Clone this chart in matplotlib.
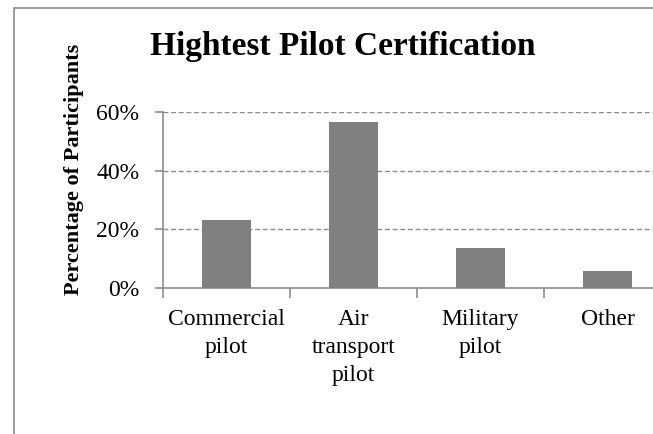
import matplotlib
matplotlib.use("Agg")
import matplotlib.pyplot as plt
from matplotlib.ticker import FuncFormatter, FixedLocator
from matplotlib.patches import Rectangle

categories = ["Commercial\npilot", "Air\ntransport\npilot", "Military\npilot", "Other"]
values = [0.233, 0.566, 0.137, 0.057]
yticks = [0.0, 0.2, 0.4, 0.6]

plt.rcParams['font.family'] = ['Liberation Serif', 'DejaVu Serif']

W, H = 653, 434
fig = plt.figure(figsize=(W / 100, H / 100), dpi=100)

# outer chart border (cropped at right/bottom)
fig.patches.append(Rectangle((14 / W, -0.1), 1.2, (H - 8) / H + 0.1,
                             transform=fig.transFigure, fill=False,
                             edgecolor='#8c8c8c', linewidth=1.2))

left, right = 163, 671
bottom, top = 288, 112
ax = fig.add_axes([left / W, (H - bottom) / H, (right - left) / W, (bottom - top) / H])

x = list(range(len(categories)))
ax.bar(x, values, width=0.39, color='#808080', zorder=3)

ax.set_xlim(-0.5, len(categories) - 0.5)
ax.set_ylim(0, 0.6)
ax.set_yticks(yticks)
ax.yaxis.set_major_formatter(FuncFormatter(lambda v, p: f"{v*100:.0f}%"))
for yv in yticks[1:]:
    ax.axhline(yv, color='#8a8a8a', linestyle=(0, (3.5, 2)), linewidth=1.0, zorder=1)

ax.set_xticks(x)
ax.set_xticklabels(categories, linespacing=1.45)
ax.xaxis.set_minor_locator(FixedLocator([i - 0.5 for i in range(len(categories) + 1)]))
ax.tick_params(axis='x', which='major', length=0, pad=15, labelsize=17)
ax.tick_params(axis='x', which='minor', length=7, width=1.2, color='#8c8c8c', direction='out')
ax.tick_params(axis='y', which='major', length=6, width=1.2, color='#8c8c8c', pad=11, labelsize=17)

for s in ['top', 'right']:
    ax.spines[s].set_visible(False)
for s in ['left', 'bottom']:
    ax.spines[s].set_color('#8c8c8c')
    ax.spines[s].set_linewidth(1.2)
ax.set_facecolor('none')

fig.text(343 / W, (H - 47) / H, "Hightest Pilot Certification", ha='center', va='center',
         fontsize=24, fontweight='bold')
fig.text(74 / W, (H - 169) / H, "Percentage of Participants", ha='center', va='center',
         rotation=90, fontsize=16, fontweight='bold')

fig.savefig("out.png", dpi=100)
